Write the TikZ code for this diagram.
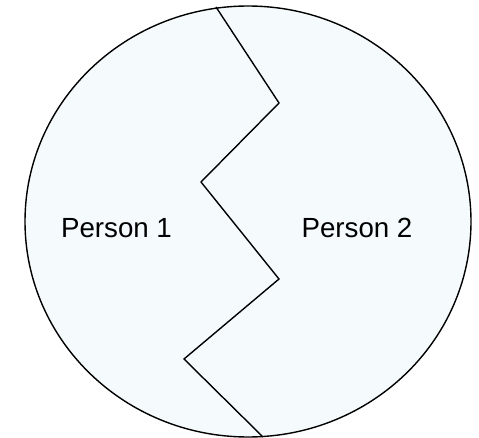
\documentclass[tikz,border=0pt]{standalone}
\usepackage{fontspec}
\setmainfont{Liberation Sans}
\usepackage{tikz}
\usetikzlibrary{positioning,calc}
\definecolor{halffill}{RGB}{245,250,252}

\begin{document}
\begin{tikzpicture}[
      x=1pt, y=-1pt,
      rand/.style={draw=black, line width=1.4pt},
      grens/.style={draw=black, line width=1.4pt, line join=miter},
      persoon/.style={font=\fontsize{27.7}{32}\selectfont, text=black, inner sep=0pt}
  ]
    \useasboundingbox (0,0) rectangle (479,438);

    % cirkel
    \draw [rand, fill=halffill] (248,221.5) ellipse [x radius=223, y radius=215.5];

    % zigzag grens
    \coordinate (g0) at (216,7);
    \coordinate (g1) at (279,103);
    \coordinate (g2) at (201,182);
    \coordinate (g3) at (279,279);
    \coordinate (g4) at (184,359);
    \coordinate (g5) at (263,437);
    \draw [grens] (g0) -- (g1) -- (g2) -- (g3) -- (g4) -- (g5);

    % namen
    \node [persoon] (p1) at (116.5,228) {Person 1};
    \node [persoon] (p2) at (357,228) {Person 2};
  \end{tikzpicture}
\end{document}
